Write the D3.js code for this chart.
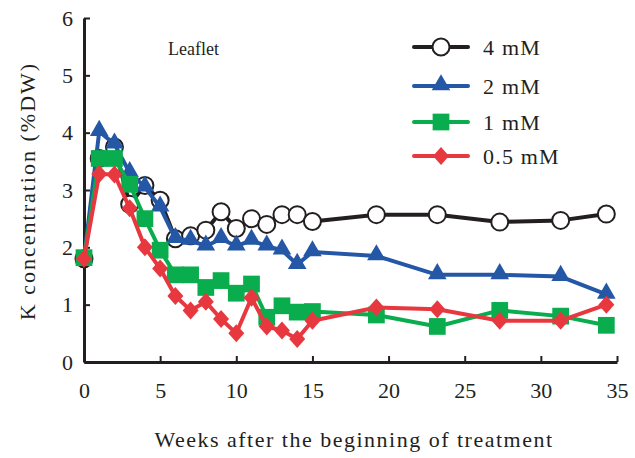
<!DOCTYPE html>
<html>
<head>
<meta charset="utf-8">
<script src="https://cdn.jsdelivr.net/npm/d3@7"></script>
<style>
  html, body { margin: 0; padding: 0; background: #fff; }
  svg { display: block; }
  text { font-family: "Liberation Serif", "DejaVu Serif", serif; fill: #231f20; }
</style>
</head>
<body>
<svg id="chart" width="635" height="458"></svg>
<script>
// Sampling times (weeks after the start of treatment)
const weeks = [0, 1, 2, 3, 4, 5, 6, 7, 8, 9, 10, 11, 12, 13, 14, 15, 19.2, 23.2, 27.3, 31.3, 34.3];

// Leaflet K concentration (%DW) by K supply level
const k4mM   = [1.80, 3.55, 3.75, 2.75, 3.08, 2.82, 2.15, 2.20, 2.30, 2.62, 2.33, 2.50, 2.40, 2.57, 2.57, 2.45, 2.57, 2.57, 2.44, 2.47, 2.58];
const k2mM   = [1.80, 4.02, 3.80, 3.30, 3.05, 2.70, 2.15, 2.12, 2.02, 2.15, 2.02, 2.12, 2.02, 1.95, 1.70, 1.92, 1.85, 1.52, 1.52, 1.49, 1.18];
const k1mM   = [1.82, 3.55, 3.55, 3.10, 2.50, 1.95, 1.52, 1.52, 1.30, 1.42, 1.20, 1.36, 0.78, 0.98, 0.87, 0.88, 0.82, 0.62, 0.90, 0.80, 0.64];
const k05mM  = [1.80, 3.28, 3.27, 2.68, 2.00, 1.63, 1.15, 0.90, 1.05, 0.75, 0.50, 1.12, 0.62, 0.55, 0.40, 0.72, 0.95, 0.92, 0.72, 0.72, 1.00];

const seriesNames = ["4 mM", "2 mM", "1 mM", "0.5 mM"];
const seriesColors = ["#231f20", "#2457a6", "#0aad4e", "#e8383f"];
const seriesMarkers = ["circle", "triangle", "square", "diamond"];

const xTicks = [0, 5, 10, 15, 20, 25, 30, 35];
const yTicks = [0, 1, 2, 3, 4, 5, 6];

const svg = d3.select("#chart");
const x = d3.scaleLinear().domain([0, 35]).range([84, 617]);
const y = d3.scaleLinear().domain([0, 6]).range([362, 18]);

const seriesData = [k4mM, k2mM, k1mM, k05mM];

function markerPath(kind) {
  if (kind === "triangle") return d3.symbol().type(d3.symbolTriangle).size(150)();
  if (kind === "square") return d3.symbol().type(d3.symbolSquare).size(280)();
  if (kind === "diamond") return "M0,-9L8,0L0,9L-8,0Z";
  return null;
}

function drawMarker(g, kind, color) {
  if (kind === "circle") {
    g.append("circle").attr("r", 8.5).attr("fill", "#fff")
      .attr("stroke", color).attr("stroke-width", 2);
  } else {
    const p = g.append("path").attr("d", markerPath(kind)).attr("fill", color);
    if (kind === "triangle") p.attr("transform", "translate(0,-1)");
  }
}

// Axes
const yAxis = d3.axisLeft(y).tickValues(yTicks).tickSize(-6).tickSizeOuter(0).tickPadding(11)
  .tickFormat(d3.format("d"));
const gy = svg.append("g").attr("transform", `translate(${x(0)},0)`).call(yAxis);
gy.select(".domain").attr("stroke", "#231f20").attr("stroke-width", 3);
gy.selectAll(".tick line").attr("stroke", "#231f20").attr("stroke-width", 2);
gy.selectAll(".tick text").style("font-size", "22px");

const xAxis = d3.axisBottom(x).tickValues(xTicks).tickSize(-6).tickSizeOuter(0).tickPadding(20)
  .tickFormat(d3.format("d"));
const gx = svg.append("g").attr("transform", `translate(0,${y(0)})`).call(xAxis);
gx.select(".domain").attr("stroke", "#231f20").attr("stroke-width", 3);
gx.selectAll(".tick line").attr("stroke", "#231f20").attr("stroke-width", 2);
gx.selectAll(".tick text").style("font-size", "22px");

// Series lines and markers
const line = d3.line().x((d, i) => x(weeks[i])).y(d => y(d));
seriesData.forEach((vals, s) => {
  const g = svg.append("g");
  g.append("path").datum(vals).attr("d", line).attr("fill", "none")
    .attr("stroke", seriesColors[s]).attr("stroke-width", 4).attr("stroke-linejoin", "round");
  vals.forEach((v, i) => {
    const m = g.append("g").attr("transform", `translate(${x(weeks[i])},${y(v)})`);
    drawMarker(m, seriesMarkers[s], seriesColors[s]);
  });
});

// Legend
const legendY = [47, 86, 122, 156];
seriesNames.forEach((name, s) => {
  const g = svg.append("g").attr("transform", `translate(0,${legendY[s]})`);
  g.append("line").attr("x1", 414).attr("x2", 468).attr("y1", 0).attr("y2", 0)
    .attr("stroke", seriesColors[s]).attr("stroke-width", 4).attr("stroke-linecap", "round");
  const m = g.append("g").attr("transform", "translate(441,0)");
  drawMarker(m, seriesMarkers[s], seriesColors[s]);
  g.append("text").attr("x", 483).attr("y", 0).attr("dy", "0.35em")
    .style("font-size", "22px").style("letter-spacing", "1.2px").text(name);
});

// Panel label
svg.append("text").attr("x", 168).attr("y", 55).style("font-size", "18px").text("Leaflet");

// Axis titles
svg.append("text").attr("x", 354).attr("y", 447).attr("text-anchor", "middle")
  .style("font-size", "22px").style("letter-spacing", "1.5px")
  .text("Weeks after the beginning of treatment");
svg.append("text").attr("transform", "translate(35,191) rotate(-90)").attr("text-anchor", "middle")
  .style("font-size", "22px").style("letter-spacing", "2px")
  .text("K concentration (%DW)");
</script>
</body>
</html>
